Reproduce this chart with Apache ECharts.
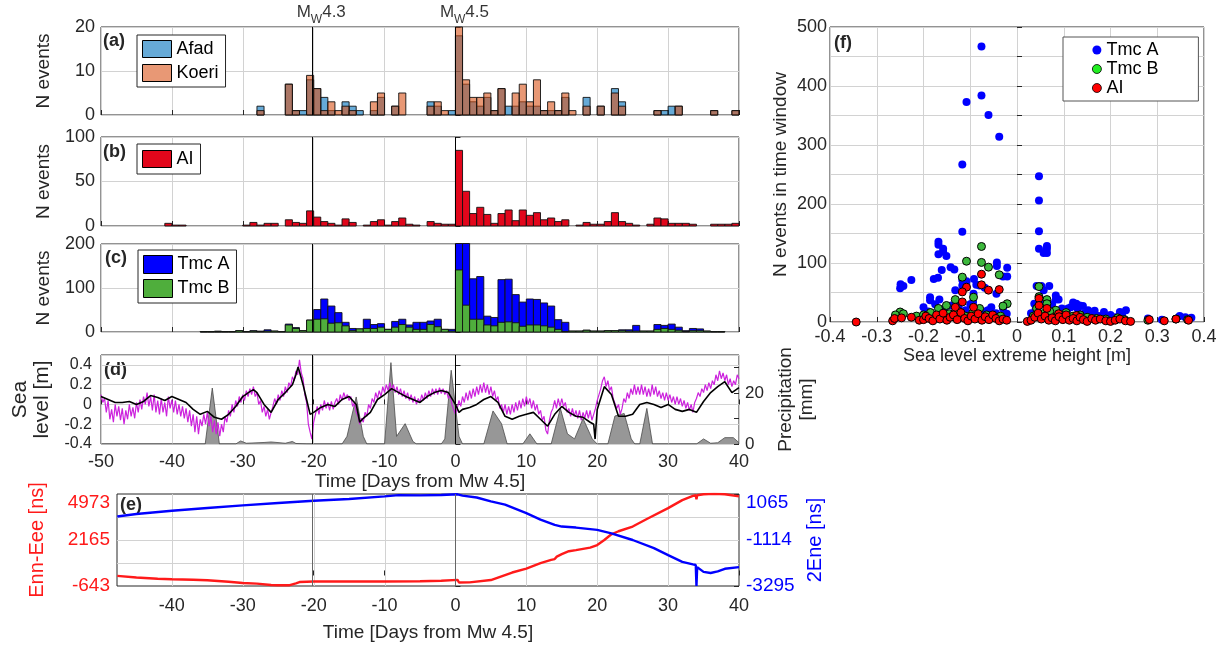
<!DOCTYPE html>
<html><head><meta charset="utf-8">
<script src="https://cdn.jsdelivr.net/npm/echarts@6/dist/echarts.min.js"></script>
<style>html,body{margin:0;padding:0;background:#fff}#c{width:1228px;height:646px}</style>
</head><body><div id="c"></div>
<script>
// ---------- DATA ----------
const binStart = [-50,-49,-48,-47,-46,-45,-44,-43,-42,-41,-40,-39,-38,-37,-36,-35,-34,-33,-32,-31,-30,-29,-28,-27,-26,-25,-24,-23,-22,-21,-20,-19,-18,-17,-16,-15,-14,-13,-12,-11,-10,-9,-8,-7,-6,-5,-4,-3,-2,-1,0,1,2,3,4,5,6,7,8,9,10,11,12,13,14,15,16,17,18,19,20,21,22,23,24,25,26,27,28,29,30,31,32,33,34,35,36,37,38,39];
const afad = [0,0,0,0,0,0,0,0,0,0, 0,0,0,0,0,0,0,0,0,0, 0,0,2,0,0,0,7,1,1,8, 6,4,1,0,3,2,1,0,1,4, 0,2,0,0,0,0,3,2,0,1, 18,7,3,2,4,1,6,2,2,3, 2,2,1,1,1,4,0,0,4,0, 2,0,6,3,0,0,0,0,1,1, 2,2,0,0,0,0,1,0,0,1];
const koeri = [0,0,0,0,0,0,0,0,0,0, 0,0,0,0,0,0,0,0,0,0, 0,0,1,0,0,0,7,1,0,9, 6,1,3,1,2,1,0,0,3,5, 0,2,5,0,0,0,2,3,1,0, 20,8,4,4,5,1,6,0,5,7, 3,8,1,3,1,5,1,0,2,0, 2,0,5,2,0,0,0,0,1,0, 0,2,0,0,0,0,1,0,0,1];
const aiCat = [0,0,0,0,0,0,0,0,0,3, 1,1,0,0,0,0,0,0,0,0, 1,4,1,3,3,0,7,4,3,17, 10,5,3,1,8,4,0,1,5,7, 1,5,9,2,1,0,5,3,2,2, 85,39,14,21,13,3,14,18,6,18, 12,15,7,9,5,7,0,1,4,2, 2,5,15,5,3,1,0,2,9,8, 3,3,3,2,0,0,2,2,2,3];
const tmcA = [0,0,0,0,0,0,0,0,0,0, 0,0,0,0,1,1,2,1,1,3, 1,3,2,5,2,1,18,10,3,27, 51,75,59,44,22,8,7,29,17,19, 6,24,29,16,22,22,25,29,6,6, 280,240,121,126,36,33,119,120,85,68, 75,74,66,59,28,22,2,2,4,2, 2,3,3,5,5,15,2,2,17,15, 18,11,3,8,7,2,1,1,0,0];
const tmcB = [0,0,0,0,0,0,0,0,0,0, 0,0,0,0,1,1,1,1,1,3, 1,2,1,2,2,1,16,8,3,27, 29,30,20,21,14,3,7,8,8,11, 6,11,17,11,6,6,17,12,6,2, 141,61,29,29,16,14,22,23,21,13, 16,16,14,11,6,1,2,2,4,2, 2,3,3,3,2,2,2,2,6,8, 6,4,1,3,3,2,1,1,0,0];

const eventDays = [-20.2, 0];
const eventMags = ['4.3', '4.5'];

const seaBlack = [[-50,0.08],[-49,0.05],[-48,0.02],[-47,0.02],[-46,0.03],[-45,0.0],[-44,0.03],[-43,0.09],[-42,0.07],[-41,0.04],[-40,0.08],[-39,0.05],[-38,0.02],[-37,-0.05],[-36,-0.1],[-35,-0.07],[-34,-0.13],[-33,-0.15],[-32,-0.1],[-31,-0.02],[-30,0.08],[-29,0.13],[-28.5,0.15],[-28,0.12],[-27,0.0],[-26,-0.08],[-25,0.05],[-24,0.12],[-23,0.2],[-22.5,0.3],[-22.2,0.38],[-22,0.33],[-21.5,0.2],[-21,0.05],[-20.5,-0.1],[-20,-0.08],[-19,-0.03],[-18,0.0],[-17,-0.02],[-16,0.05],[-15,0.08],[-14,0.0],[-13.5,-0.18],[-13,-0.14],[-12,-0.08],[-11,0.05],[-10,0.1],[-9,0.16],[-8,0.12],[-7,0.08],[-6,0.05],[-5,0.02],[-4,0.08],[-3,0.12],[-2,0.14],[-1,0.12],[0,0.0],[0.5,-0.08],[1,-0.05],[2,-0.03],[3,0.0],[4,0.05],[5,0.08],[6,0.02],[7,-0.12],[8,-0.15],[9,-0.12],[10,-0.1],[11,-0.08],[12,-0.15],[13,-0.22],[14,-0.1],[15,-0.02],[16,-0.08],[17,-0.12],[18,-0.13],[19,-0.18],[19.5,-0.2],[19.7,-0.35],[20,-0.05],[21,0.18],[22,0.1],[23,-0.12],[24,-0.12],[25,-0.1],[26,0.0],[27,0.02],[28,0.0],[29,-0.03],[30,0.0],[31,-0.05],[32,-0.07],[33,-0.05],[34,-0.08],[35,0.03],[36,0.12],[37,0.18],[38,0.23],[39,0.12],[40,0.17]];
const seaMagenta = [[-50,0.10],[-49.75,0.02],[-49.5,0.06],[-49.25,-0.08],[-49,0.04],[-48.75,-0.15],[-48.5,-0.05],[-48.25,-0.18],[-48,0.0],[-47.75,-0.12],[-47.5,-0.02],[-47.25,-0.16],[-47,-0.04],[-46.75,-0.2],[-46.5,-0.06],[-46.25,-0.15],[-46,0.0],[-45.75,-0.12],[-45.5,-0.03],[-45.25,-0.14],[-45,0.02],
[-44.75,-0.08],[-44.5,0.05],[-44.25,-0.05],[-44,0.08],[-43.75,0.0],[-43.5,0.12],[-43.25,-0.02],[-43,0.08],[-42.75,-0.06],[-42.5,0.1],[-42.25,-0.08],[-42,0.04],[-41.75,-0.1],[-41.5,0.06],[-41.25,-0.08],[-41,0.02],[-40.75,-0.12],[-40.5,0.08],[-40.25,-0.04],[-40,0.05],
[-39.75,-0.08],[-39.5,0.04],[-39.25,-0.1],[-39,0.0],[-38.75,-0.12],[-38.5,-0.02],[-38.25,-0.14],[-38,-0.04],[-37.75,-0.18],[-37.5,-0.06],[-37.25,-0.22],[-37,-0.1],[-36.75,-0.28],[-36.5,-0.12],[-36.25,-0.3],[-36,-0.15],[-35.75,-0.22],[-35.5,-0.1],[-35.25,-0.2],[-35,-0.08],
[-34.75,-0.22],[-34.5,-0.12],[-34.25,-0.28],[-34,-0.16],[-33.75,-0.3],[-33.5,-0.18],[-33.25,-0.32],[-33,-0.2],[-32.75,-0.28],[-32.5,-0.12],[-32.25,-0.18],[-32,-0.06],[-31.75,-0.12],[-31.5,0.0],[-31.25,-0.08],[-31,0.04],[-30.75,-0.02],[-30.5,0.08],[-30.25,0.02],[-30,0.1],
[-29.75,0.04],[-29.5,0.14],[-29.25,0.08],[-29,0.16],[-28.75,0.1],[-28.5,0.18],[-28.25,0.08],[-28,0.12],[-27.75,0.0],[-27.5,0.04],[-27.25,-0.08],[-27,-0.02],[-26.75,-0.12],[-26.5,-0.05],[-26.25,-0.15],[-26,-0.08],[-25.75,-0.02],[-25.5,0.06],[-25.25,0.0],[-25,0.1],
[-24.75,0.04],[-24.5,0.14],[-24.25,0.08],[-24,0.18],[-23.75,0.12],[-23.5,0.22],[-23.25,0.18],[-23,0.28],[-22.75,0.24],[-22.5,0.34],[-22.25,0.3],[-22,0.45],[-21.75,0.32],[-21.5,0.26],[-21.25,0.1],[-21,0.02],[-20.75,-0.2],[-20.5,-0.28],[-20.25,-0.35],[-20,-0.18],
[-19.75,-0.1],[-19.5,-0.02],[-19.25,-0.1],[-19,0.0],[-18.75,-0.06],[-18.5,0.04],[-18.25,-0.04],[-18,0.02],[-17.75,-0.06],[-17.5,0.03],[-17.25,-0.05],[-17,0.02],[-16.75,0.06],[-16.5,0.0],[-16.25,0.1],[-16,0.04],[-15.75,0.12],[-15.5,0.06],[-15.25,0.1],[-15,0.04],
[-14.75,0.08],[-14.5,-0.02],[-14.25,0.02],[-14,-0.08],[-13.75,-0.12],[-13.5,-0.2],[-13.25,-0.14],[-13,-0.18],[-12.75,-0.08],[-12.5,-0.12],[-12.25,0.0],[-12,-0.04],[-11.75,0.06],[-11.5,0.02],[-11.25,0.12],[-11,0.06],[-10.75,0.14],[-10.5,0.08],[-10.25,0.18],[-10,0.12],
[-9.75,0.2],[-9.5,0.14],[-9.25,0.22],[-9,0.14],[-8.75,0.2],[-8.5,0.12],[-8.25,0.18],[-8,0.1],[-7.75,0.16],[-7.5,0.08],[-7.25,0.14],[-7,0.06],[-6.75,0.12],[-6.5,0.04],[-6.25,0.1],[-6,0.02],[-5.75,0.08],[-5.5,0.0],[-5.25,0.06],[-5,0.02],
[-4.75,0.1],[-4.5,0.04],[-4.25,0.12],[-4,0.06],[-3.75,0.14],[-3.5,0.08],[-3.25,0.16],[-3,0.1],[-2.75,0.16],[-2.5,0.1],[-2.25,0.17],[-2,0.11],[-1.75,0.16],[-1.5,0.1],[-1.25,0.14],[-1,0.06],[-0.75,0.1],[-0.5,0.0],[-0.25,0.02],[0,-0.1],
[0.25,-0.04],[0.5,0.04],[0.75,-0.02],[1,0.08],[1.25,0.02],[1.5,0.12],[1.75,0.04],[2,0.14],[2.25,0.06],[2.5,0.16],[2.75,0.08],[3,0.18],[3.25,0.1],[3.5,0.2],[3.75,0.12],[4,0.22],[4.25,0.12],[4.5,0.2],[4.75,0.1],[5,0.18],
[5.25,0.08],[5.5,0.14],[5.75,0.04],[6,0.08],[6.25,-0.04],[6.5,0.0],[6.75,-0.08],[7,0.0],[7.25,-0.1],[7.5,-0.02],[7.75,-0.1],[8,0.0],[8.25,-0.08],[8.5,0.02],[8.75,-0.06],[9,0.04],[9.25,-0.04],[9.5,0.06],[9.75,-0.02],[10,0.08],
[10.25,0.0],[10.5,0.06],[10.75,-0.04],[11,0.04],[11.25,-0.06],[11.5,0.0],[11.75,-0.1],[12,-0.06],[12.25,-0.16],[12.5,-0.12],[12.75,-0.26],[13,-0.3],[13.25,-0.16],[13.5,-0.08],[13.75,-0.04],[14,0.04],[14.25,-0.04],[14.5,0.06],[14.75,-0.02],[15,0.06],
[15.25,-0.02],[15.5,0.02],[15.75,-0.08],[16,-0.04],[16.25,-0.12],[16.5,-0.04],[16.75,-0.12],[17,-0.06],[17.25,-0.14],[17.5,-0.06],[17.75,-0.16],[18,-0.08],[18.25,-0.14],[18.5,-0.06],[18.75,-0.14],[19,-0.06],[19.25,-0.16],[19.5,-0.1],[19.75,-0.04],[20,0.04],
[20.25,0.1],[20.5,0.16],[20.75,0.24],[21,0.28],[21.25,0.18],[21.5,0.24],[21.75,0.14],[22,0.18],[22.25,0.06],[22.5,0.08],[22.75,-0.04],[23,0.0],[23.25,-0.1],[23.5,-0.04],[23.75,0.06],[24,0.02],[24.25,0.12],[24.5,0.06],[24.75,0.16],[25,0.1],
[25.25,0.2],[25.5,0.1],[25.75,0.18],[26,0.1],[26.25,0.2],[26.5,0.1],[26.75,0.18],[27,0.08],[27.25,0.16],[27.5,0.08],[27.75,0.2],[28,0.1],[28.25,0.18],[28.5,0.08],[28.75,0.14],[29,0.06],[29.25,0.12],[29.5,0.04],[29.75,0.12],[30,0.04],
[30.25,0.1],[30.5,0.02],[30.75,0.08],[31,0.0],[31.25,0.08],[31.5,0.0],[31.75,0.06],[32,-0.02],[32.25,0.04],[32.5,-0.04],[32.75,0.02],[33,-0.06],[33.25,0.0],[33.5,-0.08],[33.75,0.02],[34,0.06],[34.25,0.12],[34.5,0.08],[34.75,0.16],[35,0.12],
[35.25,0.2],[35.5,0.14],[35.75,0.22],[36,0.16],[36.25,0.24],[36.5,0.2],[36.75,0.3],[37,0.24],[37.25,0.34],[37.5,0.26],[37.75,0.32],[38,0.24],[38.25,0.3],[38.5,0.2],[38.75,0.26],[39,0.18],[39.25,0.24],[39.5,0.2],[39.75,0.3],[40,0.26]];
const precip = [[-50,0],[-36,0],[-35.3,0],[-34.3,22],[-33.3,0],[-31,0],[-30.3,1.2],[-29.5,0.3],[-27,0.6],[-26,0.8],[-24,0.3],[-23,1],[-22.5,0.2],[-21,0],[-16,0],[-15.3,3],[-14,18.5],[-13,3],[-12.5,0],[-10,0],[-9.1,32],[-8.3,3],[-7.1,8],[-6,1],[-5.5,0],[-2,0],[-1.5,2],[-0.6,29],[0.5,3],[1,0],[4,0],[5.3,13],[6.5,8],[7.3,0],[9.5,0],[10.5,4],[11.5,0],[13.5,0],[14.8,14],[15.8,4],[16.8,2],[18,10],[19.3,2],[20,0],[21.5,0],[22.5,11],[23.8,12],[24.8,2],[25.3,0],[26,0],[27,14],[27.8,0],[34,0],[35,2],[36,0.3],[37,0.5],[38,2.5],[39.2,2.5],[40,0.5]];
const seaTickLabels = ['-0.4','-0.2','0','0.2','0.4'];
const precipTickLabels = ['0','20'];

const ennEee = [[-47.7,-28],[-45,-120],[-42,-200],[-40,-233],[-37,-260],[-35,-294],[-32,-380],[-30,-459],[-28,-500],[-26,-580],[-25,-600],[-23.5,-600],[-22.5,-480],[-22,-400],[-20,-370],[-15,-360],[-10,-370],[-5,-350],[-2,-320],[0.3,-270],[0.5,-430],[2,-420],[5,-280],[8,180],[10,423],[12,750],[13.5,950],[14,1000],[14.3,1150],[15,1300],[16,1480],[17,1550],[19,1700],[20,1858],[21,2165],[22,2514],[23,2700],[25,2985],[27,3450],[30,4112],[32,4600],[33.5,4860],[33.9,4900],[34,4650],[34.1,4900],[35,4960],[36.5,4990],[38,4960],[40,4830]];
const twoEne = [[-47.7,0],[-45,120],[-40,269],[-35,400],[-30,524],[-25,640],[-20,747],[-15,830],[-10,954],[-8,1010],[-5,1000],[-2,1020],[0.3,1050],[1,990],[3,900],[5,715],[7,560],[10,158],[12,-150],[14,-400],[15,-478],[17,-526],[20,-637],[22,-800],[25,-1115],[28,-1500],[30,-1831],[32,-2150],[33.5,-2270],[33.9,-2300],[34,-3295],[34.1,-2400],[35,-2627],[36,-2680],[37,-2600],[38,-2480],[40,-2400]];
const enLeftLabels = ['-643','','2165','','4973'];
const enRightLabels = ['-3295','','-1114','','1065'];
const eGridX = [-40,-30,-20,-10,0,10,20,30];
const eGridY = [761, 2165, 3569];

const scTmcA = [[-0.076,467],[-0.076,384],[-0.108,373],[-0.061,351],[-0.038,314],[-0.117,267],[-0.117,153],[-0.168,136],[-0.168,131],[-0.158,124],[-0.158,119],[-0.168,115],[-0.151,112],[-0.142,93],[-0.161,88],[-0.134,89],[-0.178,73],[-0.169,75],[-0.249,64],[-0.250,57],[-0.243,61],[-0.226,71],[-0.043,101],[-0.043,95],[-0.021,92],[-0.030,77],[-0.021,77],[-0.092,73],[-0.087,63],[-0.080,62],[-0.117,71],[-0.117,62],[-0.108,69],[-0.132,54],[-0.093,48],[-0.069,58],[-0.044,48],[-0.186,42],[-0.186,37],[-0.166,38],[-0.094,34],[-0.022,14],[-0.030,23],[-0.062,20],[0.047,247],[0.047,206],[0.047,154],[0.047,124],[0.064,129],[0.064,124],[0.057,117],[0.064,117],[0.042,61],[0.052,61],[0.069,61],[0.057,54],[0.083,45],[0.089,38],[0.083,38],[0.037,31],[0.096,23],[0.109,23],[0.127,31],[0.134,28],[0.141,27],[0.152,20],[0.166,19],[0.186,17],[0.220,17],[0.233,20],[0.348,10],[0.373,7],[-0.2,25],[-0.19,18],[-0.175,30],[-0.155,22],[-0.14,28],[-0.125,26],[-0.11,20],[-0.1,30],[-0.085,22],[-0.07,18],[-0.055,25],[-0.045,15],[0.03,15],[0.04,22],[0.06,35],[0.075,30],[0.1,18],[0.115,25],[0.12,33],[0.13,22],[0.145,15],[0.16,12],[0.175,10],[0.2,12],[0.21,8],[0.225,10],[0.28,6],[0.31,4],[0.36,8]];
const scTmcB = [[-0.076,128],[-0.108,103],[-0.076,101],[-0.061,93],[-0.038,80],[-0.117,76],[-0.093,42],[-0.132,38],[-0.250,17],[-0.243,14],[-0.151,28],[-0.168,23],[-0.021,31],[-0.030,27],[-0.080,23],[0.047,60],[0.047,43],[0.064,38],[0.064,31],[0.042,23],[0.083,20],[-0.26,12],[-0.215,10],[-0.2,12],[-0.185,16],[-0.17,9],[-0.145,14],[-0.125,18],[-0.11,10],[-0.095,15],[-0.065,12],[-0.05,8],[-0.035,10],[0.035,10],[0.055,14],[0.07,18],[0.09,12],[0.105,16],[0.12,10],[0.135,12],[0.15,8],[0.17,6],[0.19,5],[0.215,7],[0.23,4],[0.28,3],[0.34,5],[0.365,4]];
const scAI = [[-0.076,81],[-0.076,63],[-0.061,54],[-0.038,55],[-0.108,59],[-0.117,51],[-0.117,34],[-0.093,25],[-0.132,25],[0.047,40],[0.047,28],[0.064,23],[0.089,14],[0.127,11],[-0.344,0],[-0.266,2],[-0.262,6],[-0.247,7],[-0.226,8],[-0.209,3],[-0.2,4],[-0.195,10],[-0.188,6],[-0.18,2],[-0.172,12],[-0.165,5],[-0.158,15],[-0.15,3],[-0.143,8],[-0.136,12],[-0.128,4],[-0.12,16],[-0.112,6],[-0.105,2],[-0.098,10],[-0.09,5],[-0.083,14],[-0.075,3],[-0.068,9],[-0.06,4],[-0.052,12],[-0.045,6],[-0.038,2],[-0.03,5],[-0.022,3],[0.022,1],[0.03,3],[0.038,8],[0.045,15],[0.052,5],[0.06,10],[0.068,3],[0.075,7],[0.082,2],[0.09,9],[0.098,4],[0.105,12],[0.112,3],[0.12,6],[0.128,2],[0.135,8],[0.142,4],[0.15,1],[0.16,6],[0.168,3],[0.178,5],[0.19,2],[0.2,1],[0.21,3],[0.22,5],[0.232,2],[0.243,1],[0.283,4],[0.315,2],[0.34,5],[0.367,3]];

// ---------- STYLE ----------
const FONT = "'Liberation Sans', Arial, Helvetica, sans-serif";
const AX = '#262626';
const GRIDC = '#d2d2d2';
const C_AFAD = 'rgba(0,114,189,0.6)';
const C_KOERI = 'rgba(217,83,25,0.6)';
const C_AI = '#e2061b';
const C_TA = '#0000ff';
const C_TB = '#4fae3c';
const C_RED = '#ff1a1a';
const C_BLUE = '#0000ff';

const chart = echarts.init(document.getElementById('c'));

function barSeries(name, vals, xi, yi, fill) {
  const data = [];
  binStart.forEach((d, i) => { if (vals[i] > 0) data.push([d, d + 1, vals[i]]); });
  return {
    name, type: 'custom', xAxisIndex: xi, yAxisIndex: yi, data,
    encode: { x: [0, 1], y: 2 },
    itemStyle: { color: fill, borderColor: '#000', borderWidth: 1 },
    renderItem(params, api) {
      const a = api.coord([api.value(0), api.value(2)]);
      const b = api.coord([api.value(1), 0]);
      const shape = echarts.graphic.clipRectByRect(
        { x: a[0], y: a[1], width: b[0] - a[0], height: b[1] - a[1] },
        { x: params.coordSys.x, y: params.coordSys.y - 0.5, width: params.coordSys.width, height: params.coordSys.height + 0.5 });
      if (!shape) return null;
      return { type: 'rect', shape, style: { fill, stroke: '#111', lineWidth: 0.9 } };
    }
  };
}
// grid lines for panel (e), drawn through the axes' own scales
function gridLineSeries(xi, yi, values, vertical) {
  return {
    type: 'custom', xAxisIndex: xi, yAxisIndex: yi, silent: true, z: 1,
    data: values.map(v => [v]),
    encode: vertical ? { x: 0 } : { y: 0 },
    renderItem(params, api) {
      const cs = params.coordSys;
      const v = api.value(0);
      let x1, y1, x2, y2;
      if (vertical) {
        const p = api.coord([v, 0]);
        x1 = x2 = Math.round(p[0]) + 0.5; y1 = cs.y; y2 = cs.y + cs.height;
      } else {
        const p = api.coord([0, v]);
        y1 = y2 = Math.round(p[1]) + 0.5; x1 = cs.x; x2 = cs.x + cs.width;
      }
      return { type: 'line', shape: { x1, y1, x2, y2 }, style: { stroke: GRIDC, lineWidth: 1 } };
    }
  };
}
function vLines(xi, yi, values, color, z) {
  return {
    type: 'line', xAxisIndex: xi, yAxisIndex: yi, data: [], silent: true, z: z || 2,
    markLine: { silent: true, symbol: ['none', 'none'], label: { show: false }, animation: false,
      lineStyle: { color, width: 1, type: 'solid' }, data: values.map(d => ({ xAxis: d })) }
  };
}
function timeX(gi, extra) {
  return Object.assign({
    gridIndex: gi, type: 'value', min: -50, max: 40, interval: 10,
    axisLine: { show: false },
    axisTick: { inside: true, length: 5, lineStyle: { color: AX } },
    axisLabel: { show: false },
    splitLine: { show: true, lineStyle: { color: GRIDC, width: 1 } }
  }, extra || {});
}
function countY(gi, max, interval) {
  return {
    gridIndex: gi, type: 'value', min: 0, max, interval,
    name: 'N events', nameLocation: 'middle', nameGap: 48, nameRotate: 90,
    nameTextStyle: { fontSize: 19, color: AX, fontFamily: FONT },
    axisLine: { show: false },
    axisTick: { inside: true, length: 5, lineStyle: { color: AX } },
    axisLabel: { fontSize: 18, color: AX, fontFamily: FONT, margin: 6 },
    splitLine: { show: true, lineStyle: { color: GRIDC } }
  };
}
const gridBox = { show: true, borderColor: AX, borderWidth: 1, backgroundColor: 'transparent', containLabel: false };
const legendBase = {
  orient: 'vertical', selectedMode: false, borderColor: AX, borderWidth: 1, backgroundColor: '#fff',
  textStyle: { fontSize: 18, color: '#000', fontFamily: FONT }
};

const option = {
  animation: false,
  backgroundColor: '#fff',
  textStyle: { fontFamily: FONT },
  grid: [
    Object.assign({ left: 101, top: 27, width: 638, height: 88 }, gridBox),
    Object.assign({ left: 101, top: 137, width: 638, height: 89 }, gridBox),
    Object.assign({ left: 101, top: 244, width: 638, height: 88 }, gridBox),
    Object.assign({ left: 101, top: 355, width: 638, height: 89 }, gridBox),
    Object.assign({ left: 117, top: 494, width: 622, height: 92 }, gridBox),
    Object.assign({ left: 830, top: 27, width: 374, height: 295 }, gridBox)
  ],
  xAxis: [
    timeX(0), timeX(1), timeX(2),
    timeX(3, {
      axisLabel: { show: true, fontSize: 18, color: AX, fontFamily: FONT, margin: 9 },
      name: 'Time [Days from Mw 4.5]', nameLocation: 'middle', nameGap: 28,
      nameTextStyle: { fontSize: 19, color: AX, fontFamily: FONT }
    }),
    {
      gridIndex: 4, type: 'value', min: -47.74, max: 40, splitNumber: 9,
      axisLine: { show: false },
      axisTick: { inside: true, length: 5, lineStyle: { color: AX } },
      axisLabel: { show: true, fontSize: 18, color: AX, fontFamily: FONT, margin: 11, showMinLabel: false,
        formatter: v => (Math.abs(v % 10) < 1e-6 ? String(Math.round(v)) : '') },
      splitLine: { show: false },
      name: 'Time [Days from Mw 4.5]', nameLocation: 'middle', nameGap: 37,
      nameTextStyle: { fontSize: 19, color: AX, fontFamily: FONT }
    },
    {
      gridIndex: 5, type: 'value', min: -0.4, max: 0.4, interval: 0.1,
      axisLine: { show: false },
      axisTick: { inside: true, length: 5, lineStyle: { color: AX } },
      axisLabel: { fontSize: 18, color: AX, fontFamily: FONT, margin: 6, formatter: v => String(Math.round(v * 10) / 10) },
      splitLine: { show: true, lineStyle: { color: GRIDC } },
      name: 'Sea level extreme height [m]', nameLocation: 'middle', nameGap: 22,
      nameTextStyle: { fontSize: 18, color: AX, fontFamily: FONT }
    }
  ],
  yAxis: [
    countY(0, 20, 10),
    countY(1, 100, 50),
    countY(2, 200, 100),
    {
      gridIndex: 3, type: 'value', min: -0.4, max: 0.5, interval: 0.2,
      name: 'Sea\nlevel [m]', nameLocation: 'middle', nameGap: 43, nameRotate: 90,
      nameTextStyle: { fontSize: 21, color: AX, fontFamily: FONT, lineHeight: 22 },
      axisLine: { show: false },
      axisTick: { inside: true, length: 5, lineStyle: { color: AX } },
      axisLabel: { fontSize: 16, color: AX, fontFamily: FONT, margin: 9, showMaxLabel: false,
        formatter: v => { const s = String(Math.round(v * 10) / 10); return seaTickLabels.includes(s) ? s : ''; } },
      splitLine: { show: true, lineStyle: { color: GRIDC } }
    },
    {
      gridIndex: 3, type: 'value', min: 0, max: 35, interval: 10, position: 'right',
      name: 'Precipitation\n[mm]', nameLocation: 'middle', nameGap: 34, nameRotate: 90,
      nameTextStyle: { fontSize: 19, color: AX, fontFamily: FONT, lineHeight: 21 },
      axisLine: { show: false },
      axisTick: { inside: true, length: 5, lineStyle: { color: AX } },
      axisLabel: { fontSize: 17, color: AX, fontFamily: FONT, margin: 6, showMaxLabel: false,
        formatter: v => (precipTickLabels.includes(String(v)) ? String(v) : '') },
      splitLine: { show: false }
    },
    {
      gridIndex: 4, type: 'value', min: -643, max: 4973, interval: 1404,
      name: 'Enn-Eee [ns]', nameLocation: 'middle', nameGap: 70, nameRotate: 90,
      nameTextStyle: { fontSize: 20, color: C_RED, fontFamily: FONT },
      axisLine: { show: false },
      axisTick: { inside: true, length: 5, lineStyle: { color: AX } },
      axisLabel: { fontSize: 19, color: C_RED, fontFamily: FONT, margin: 7,
        formatter: (v, i) => (i === 4 ? '{t|' + enLeftLabels[i] + '}' : (enLeftLabels[i] || '')),
        rich: { t: { fontSize: 19, color: C_RED, fontFamily: FONT, padding: [17, 0, 0, 0] } } },
      splitLine: { show: false }
    },
    {
      gridIndex: 4, type: 'value', min: -3295, max: 1065, interval: 1090, position: 'right',
      name: '2Ene [ns]', nameLocation: 'middle', nameGap: 63, nameRotate: 90,
      nameTextStyle: { fontSize: 20, color: C_BLUE, fontFamily: FONT },
      axisLine: { show: false },
      axisTick: { inside: true, length: 5, lineStyle: { color: AX } },
      axisLabel: { fontSize: 19, color: C_BLUE, fontFamily: FONT, margin: 7,
        formatter: (v, i) => (i === 4 ? '{t|' + enRightLabels[i] + '}' : (enRightLabels[i] || '')),
        rich: { t: { fontSize: 19, color: C_BLUE, fontFamily: FONT, padding: [17, 0, 0, 0] } } },
      splitLine: { show: false }
    },
    {
      gridIndex: 5, type: 'value', min: 0, max: 500, interval: 50,
      name: 'N events in time window', nameLocation: 'middle', nameGap: 40, nameRotate: 90,
      nameTextStyle: { fontSize: 19, color: AX, fontFamily: FONT },
      axisLine: { show: false },
      axisTick: { inside: true, length: 5, lineStyle: { color: AX } },
      axisLabel: { fontSize: 18, color: AX, fontFamily: FONT, margin: 3, formatter: v => (v % 100 === 0 ? String(v) : '') },
      splitLine: { show: true, lineStyle: { color: GRIDC } }
    }
  ],
  legend: [
    Object.assign({}, legendBase, { left: 137, top: 35, padding: [5, 7, 5, 5], itemGap: 6, itemWidth: 29, itemHeight: 17,
      data: [{ name: 'Afad', icon: 'rect', itemStyle: { color: C_AFAD, borderColor: '#000', borderWidth: 1 } },
             { name: 'Koeri', icon: 'rect', itemStyle: { color: C_KOERI, borderColor: '#000', borderWidth: 1 } }] }),
    Object.assign({}, legendBase, { left: 137, top: 144, padding: [6, 7, 6, 5], itemGap: 6, itemWidth: 29, itemHeight: 17,
      data: [{ name: 'AI', icon: 'rect', itemStyle: { color: C_AI, borderColor: '#000', borderWidth: 1 } }] }),
    Object.assign({}, legendBase, { left: 138, top: 250, padding: [5, 7, 5, 5], itemGap: 5, itemWidth: 29, itemHeight: 18,
      data: [{ name: 'Tmc A', icon: 'rect', itemStyle: { color: C_TA, borderColor: '#000', borderWidth: 1 } },
             { name: 'Tmc B', icon: 'rect', itemStyle: { color: C_TB, borderColor: '#000', borderWidth: 1 } }] }),
    Object.assign({}, legendBase, { left: 1063, top: 37, padding: [4, 40, 4, 29], itemGap: 1, itemWidth: 9, itemHeight: 9,
      borderColor: '#555',
      formatter: n => n.replace(' (f)', ''),
      data: [{ name: 'Tmc A (f)', icon: 'circle', itemStyle: { color: C_TA, borderWidth: 0 } },
             { name: 'Tmc B (f)', icon: 'circle', itemStyle: { color: '#22ee22', borderColor: '#000', borderWidth: 0.8 } },
             { name: 'AI (f)', icon: 'circle', itemStyle: { color: '#ff0000', borderColor: '#000', borderWidth: 0.8 } }] })
  ],
  graphic: [
    { type: 'text', left: 103, top: 32, style: { text: '(a)', font: 'bold 18px ' + FONT, fill: AX } },
    { type: 'text', left: 103, top: 143, style: { text: '(b)', font: 'bold 18px ' + FONT, fill: AX } },
    { type: 'text', left: 105, top: 249, style: { text: '(c)', font: 'bold 18px ' + FONT, fill: AX } },
    { type: 'text', left: 104, top: 361, style: { text: '(d)', font: 'bold 18px ' + FONT, fill: AX } },
    { type: 'text', left: 120, top: 496, style: { text: '(e)', font: 'bold 18px ' + FONT, fill: AX } },
    { type: 'text', left: 834, top: 34, style: { text: '(f)', font: 'bold 18px ' + FONT, fill: AX } }
  ],
  series: [
    barSeries('Afad', afad, 0, 0, C_AFAD),
    barSeries('Koeri', koeri, 0, 0, C_KOERI),
    vLines(0, 0, eventDays, '#000'),
    {
      type: 'scatter', xAxisIndex: 0, yAxisIndex: 0, symbolSize: 0, silent: true, clip: false,
      data: eventDays.map((d, i) => ({ value: [d, 20], name: eventMags[i] })),
      label: {
        show: true, position: 'top', distance: 1, offset: [9, 0],
        formatter: p => '{m|M}{s|W}{m|' + p.name + '}',
        rich: {
          m: { fontSize: 17, color: '#000', fontFamily: FONT, verticalAlign: 'top', lineHeight: 22 },
          s: { fontSize: 12, color: '#000', fontFamily: FONT, verticalAlign: 'bottom', lineHeight: 22, padding: [10, 0, 0, 0] }
        }
      }
    },
    barSeries('AI', aiCat, 1, 1, C_AI),
    vLines(1, 1, eventDays, '#000'),
    barSeries('Tmc A', tmcA, 2, 2, C_TA),
    barSeries('Tmc B', tmcB, 2, 2, C_TB),
    vLines(2, 2, eventDays, '#000'),
    {
      type: 'line', xAxisIndex: 3, yAxisIndex: 4, data: precip, symbol: 'none', silent: true,
      lineStyle: { color: '#4a4a4a', width: 0.8 }, areaStyle: { color: '#979797', opacity: 1 }, z: 1
    },
    {
      type: 'line', xAxisIndex: 3, yAxisIndex: 3, data: seaMagenta, symbol: 'none', silent: true,
      lineStyle: { color: '#cc22dd', width: 1.2 }, z: 2
    },
    {
      type: 'line', xAxisIndex: 3, yAxisIndex: 3, data: seaBlack, symbol: 'none', silent: true,
      lineStyle: { color: '#000', width: 1.6 }, z: 3
    },
    vLines(3, 3, eventDays, '#000'),
    gridLineSeries(4, 5, eGridX, true),
    gridLineSeries(4, 5, eGridY, false),
    {
      type: 'line', xAxisIndex: 4, yAxisIndex: 5, data: ennEee, symbol: 'none', silent: true,
      lineStyle: { color: C_RED, width: 2.4 }, z: 3
    },
    {
      type: 'line', xAxisIndex: 4, yAxisIndex: 6, data: twoEne, symbol: 'none', silent: true,
      lineStyle: { color: C_BLUE, width: 2.4 }, z: 3
    },
    vLines(4, 5, eventDays, '#666'),
    {
      name: 'Tmc A (f)', type: 'scatter', xAxisIndex: 5, yAxisIndex: 7, data: scTmcA, symbolSize: 8,
      itemStyle: { color: C_TA, opacity: 1 }
    },
    {
      name: 'Tmc B (f)', type: 'scatter', xAxisIndex: 5, yAxisIndex: 7, data: scTmcB, symbolSize: 8,
      itemStyle: { color: '#3cb83c', borderColor: '#000', borderWidth: 1, opacity: 1 }
    },
    {
      name: 'AI (f)', type: 'scatter', xAxisIndex: 5, yAxisIndex: 7, data: scAI, symbolSize: 8,
      itemStyle: { color: '#ff0000', borderColor: '#000', borderWidth: 1, opacity: 1 }
    }
  ]
};
chart.setOption(option);
</script>
</body></html>
